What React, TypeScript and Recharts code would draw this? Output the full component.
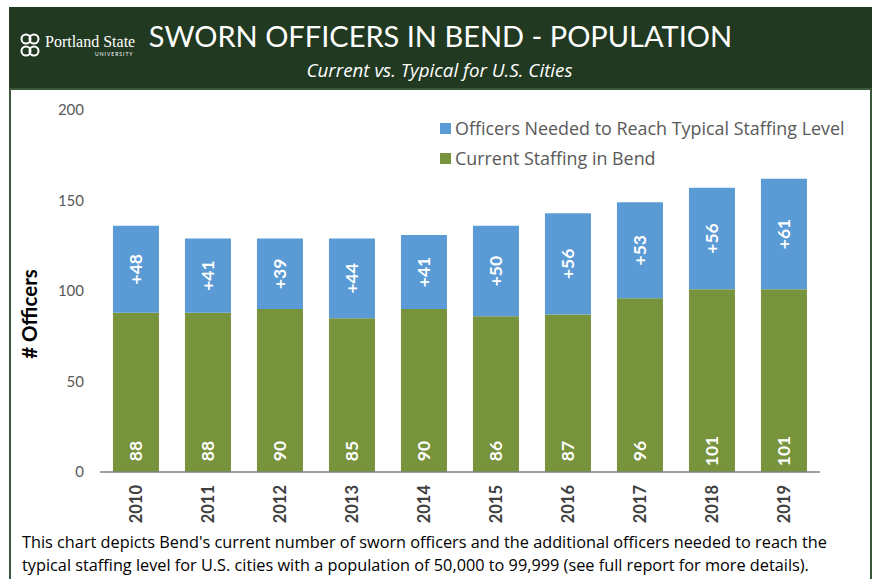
import React from 'react';
import { BarChart, Bar, XAxis, YAxis, LabelList, Label } from 'recharts';

const years = ['2010', '2011', '2012', '2013', '2014', '2015', '2016', '2017', '2018', '2019'];
const currentStaffing = [88, 88, 90, 85, 90, 86, 87, 96, 101, 101];
const officersNeeded = [48, 41, 39, 44, 41, 50, 56, 53, 56, 61];
const yTicks = [0, 50, 100, 150, 200];
const seriesNames = ['Officers Needed to Reach Typical Staffing Level', 'Current Staffing in Bend'];

const data = years.map((y, i) => ({ year: y, current: currentStaffing[i], needed: officersNeeded[i] }));

const BLUE = '#5B9BD5';
const GREEN = '#77933C';
const HEADER = '#213821';
const FONT = 'Lato, "Open Sans", sans-serif';
const FONT2 = '"Open Sans", Lato, sans-serif';

const XTick = (props: any) => {
  const { x, payload } = props;
  const y = 485 - 90;
  return (
    <text x={x} y={y} transform={`rotate(-90, ${x}, ${y})`} textAnchor="end" dy="0.36em"
      fontFamily={FONT} fontSize={16.5} fontWeight={700} fill="#404040">
      {payload.value}
    </text>
  );
};

const GreenLabel = (props: any) => {
  const { x, y, width, height, value } = props;
  const cx = x + width / 2;
  const cy = y + height - 21;
  return (
    <text x={cx} y={cy} transform={`rotate(-90, ${cx}, ${cy})`} textAnchor="middle" dy="0.36em"
      fontFamily={FONT} fontSize={17.5} fontWeight={700} fill="#ffffff">
      {value}
    </text>
  );
};

const BlueLabel = (props: any) => {
  const { x, y, width, height, value } = props;
  const cx = x + width / 2;
  const cy = y + height / 2;
  return (
    <text x={cx} y={cy} transform={`rotate(-90, ${cx}, ${cy})`} textAnchor="middle" dy="0.36em"
      fontFamily={FONT} fontSize={17.5} fontWeight={700} fill="#ffffff">
      {'+' + value}
    </text>
  );
};

const LegendBox = () => {
  const items = [
    { color: BLUE, label: seriesNames[0] },
    { color: GREEN, label: seriesNames[1] },
  ];
  return (
    <div style={{ position: 'absolute', left: 440, top: 113, fontFamily: FONT2, fontSize: 17.9, color: '#595959', whiteSpace: 'nowrap' }}>
      {items.map((it) => (
        <div key={it.label} style={{ display: 'flex', alignItems: 'center', height: 30 }}>
          <span style={{ display: 'inline-block', width: 11, height: 11, background: it.color, marginRight: 4 }} />
          <span>{it.label}</span>
        </div>
      ))}
    </div>
  );
};

export default function App() {
  return (
    <div style={{ position: 'absolute', left: 0, top: 0, width: 874, height: 579, background: '#ffffff', overflow: 'hidden', fontFamily: FONT }}>
      {/* Header */}
      <div style={{ position: 'absolute', left: 9, top: 7, width: 863, height: 82, background: HEADER }}>
        <svg style={{ position: 'absolute', left: 8, top: 25 }} width={26} height={26} viewBox="0 0 26 26">
          <g fill="none" stroke="#ffffff" strokeWidth={2}>
            <circle cx={9} cy={7} r={4.5} />
            <circle cx={17} cy={7} r={4.5} />
            <circle cx={9} cy={19} r={4.5} />
            <circle cx={17} cy={19} r={4.5} />
          </g>
        </svg>
        <div style={{ position: 'absolute', left: 36, top: 26, fontFamily: '"Liberation Serif", "DejaVu Serif", serif', fontSize: 16, color: '#ffffff', whiteSpace: 'nowrap' }}>
          Portland State
        </div>
        <div style={{ position: 'absolute', left: 86, top: 44, fontFamily: 'Lato, sans-serif', fontSize: 5, letterSpacing: 1, color: '#ffffff', whiteSpace: 'nowrap' }}>
          UNIVERSITY
        </div>
        <div style={{ position: 'absolute', left: 0, width: 863, top: 9, textAlign: 'center', fontFamily: FONT, fontSize: 29, color: '#ffffff', whiteSpace: 'nowrap', lineHeight: '40px' }}>
          <span style={{ position: 'relative', left: 0 }}>SWORN OFFICERS IN BEND - POPULATION</span>
        </div>
        <div style={{ position: 'absolute', left: 0, width: 863, top: 50, textAlign: 'center', fontFamily: FONT2, fontSize: 18.8, fontStyle: 'italic', color: '#ffffff', whiteSpace: 'nowrap', lineHeight: '26px' }}>
          <span style={{ position: 'relative', left: -1 }}>Current vs. Typical for U.S. Cities</span>
        </div>
      </div>
      {/* Frame */}
      <div style={{ position: 'absolute', left: 9, top: 88, width: 863, height: 500, border: '2px solid #3a573a', boxSizing: 'border-box', borderBottom: 'none' }} />
      {/* Chart */}
      <div style={{ position: 'absolute', left: 10, top: 90 }}>
        <BarChart width={860} height={440} data={data} margin={{ top: 20, right: 50, left: 0, bottom: 0 }} barCategoryGap="18%">
          <XAxis dataKey="year" height={58} tickLine={false} axisLine={{ stroke: '#7f7f7f', strokeWidth: 1.5 }} tick={<XTick />} interval={0} />
          <YAxis width={90} domain={[0, 200]} ticks={yTicks} tickLine={false} axisLine={false} tickSize={0} tickMargin={16}
            tick={{ fontFamily: FONT, fontSize: 15, fill: '#595959' }}>
            <Label content={() => {
              const cx = 20;
              const cy = 224;
              return (
                <text x={cx} y={cy} transform={`rotate(-90, ${cx}, ${cy})`} textAnchor="middle" dy="0.36em"
                  fontFamily={FONT} fontSize={20.5} fontWeight={700} fill="#000000"># Officers</text>
              );
            }} />
          </YAxis>
          <Bar dataKey="current" name={seriesNames[1]} stackId="a" fill={GREEN} isAnimationActive={false}>
            <LabelList dataKey="current" content={<GreenLabel />} />
          </Bar>
          <Bar dataKey="needed" name={seriesNames[0]} stackId="a" fill={BLUE} isAnimationActive={false}>
            <LabelList dataKey="needed" content={<BlueLabel />} />
          </Bar>
        </BarChart>
      </div>
      <LegendBox />
      {/* Footer */}
      <div style={{ position: 'absolute', left: 22, top: 531, fontFamily: FONT2, fontSize: 16.3, color: '#000000', lineHeight: '23px', whiteSpace: 'nowrap' }}>
        <div>This chart depicts Bend's current number of sworn officers and the additional officers needed to reach the</div>
        <div>typical staffing level for U.S. cities with a population of 50,000 to 99,999 (see full report for more details).</div>
      </div>
    </div>
  );
}
